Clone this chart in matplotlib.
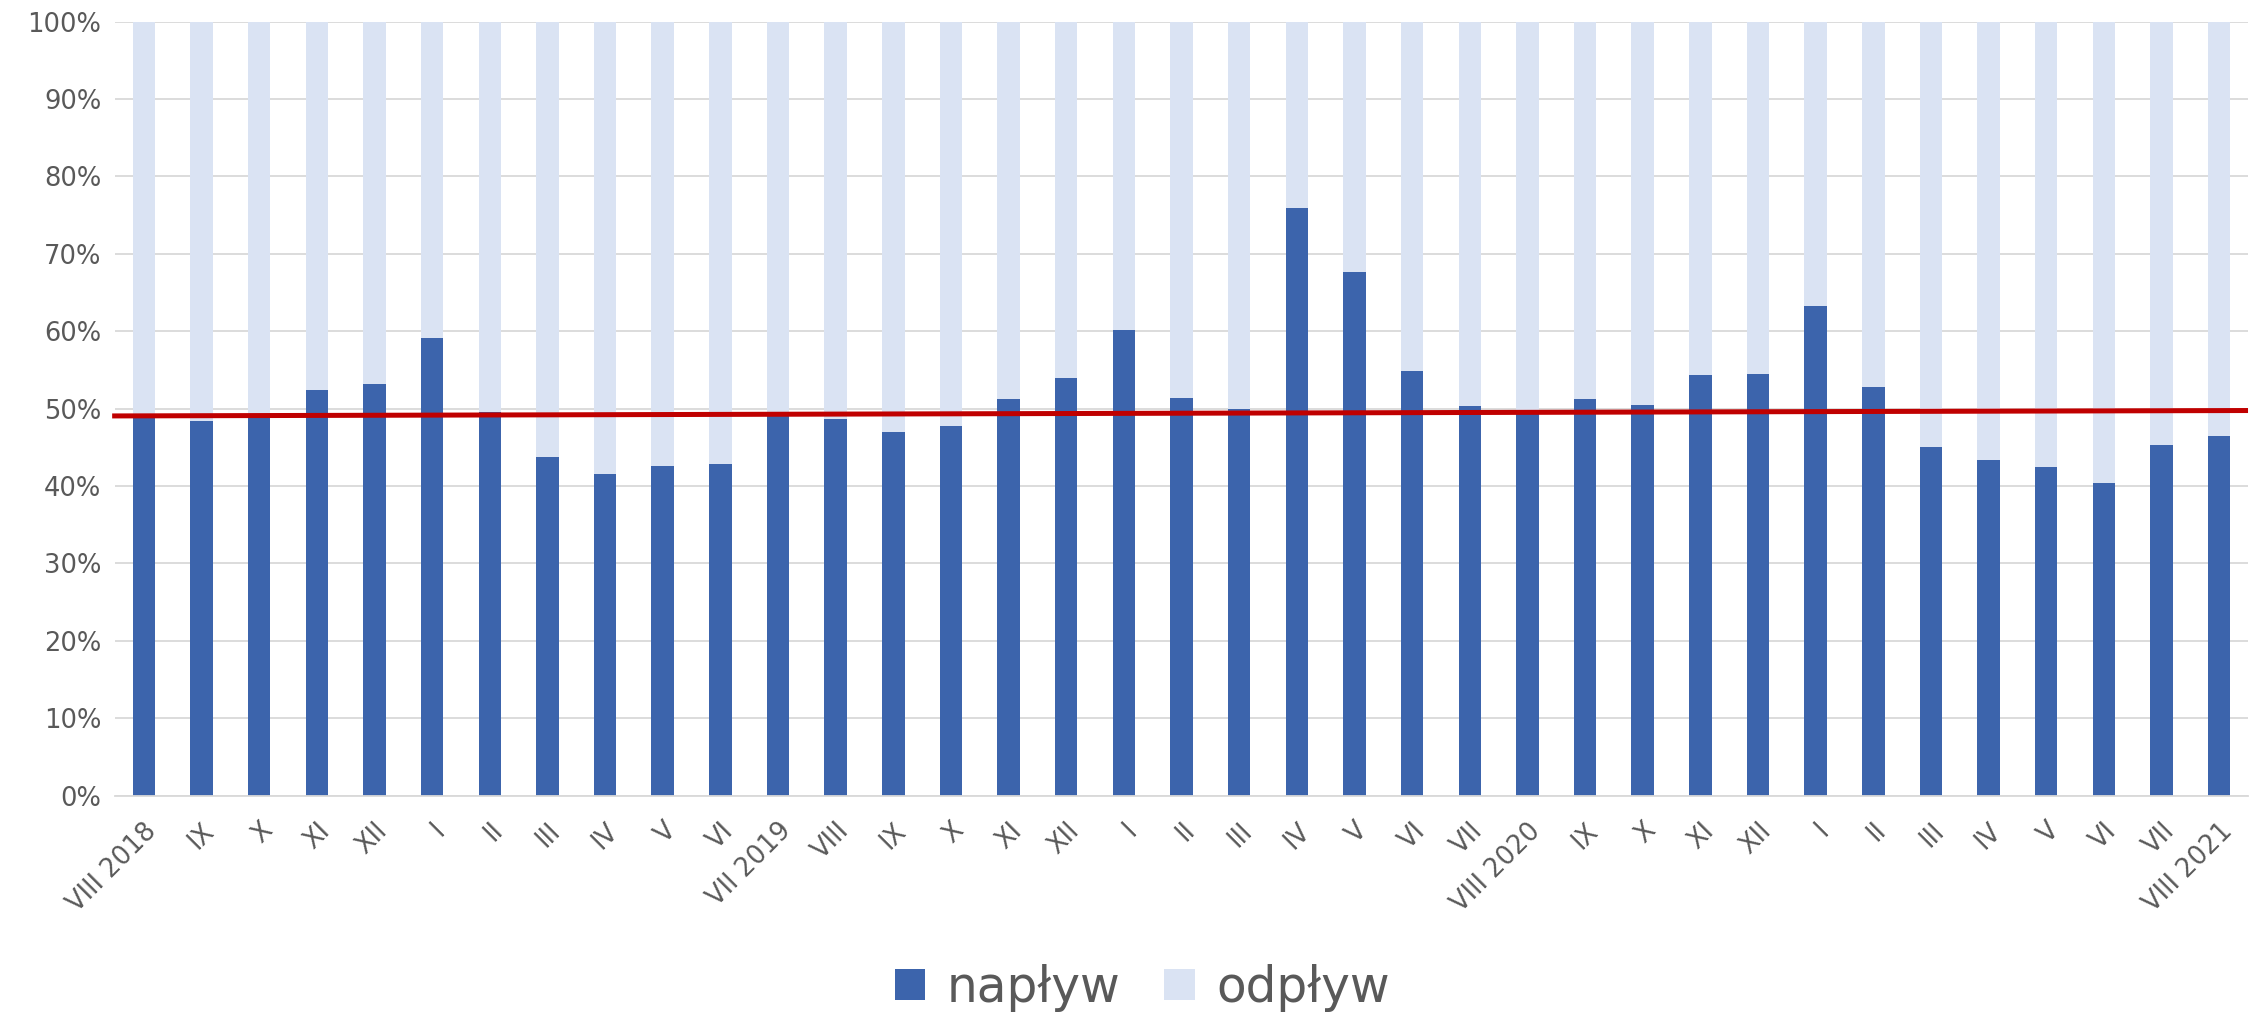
import matplotlib
matplotlib.use("Agg")
import matplotlib.pyplot as plt
import numpy as np
from matplotlib.ticker import PercentFormatter
from matplotlib.patches import Patch

categories = ["VIII 2018", "IX", "X", "XI", "XII", "I", "II", "III", "IV", "V", "VI",
              "VII 2019", "VIII", "IX", "X", "XI", "XII", "I", "II", "III", "IV", "V", "VI",
              "VII", "VIII 2020", "IX", "X", "XI", "XII", "I", "II", "III", "IV", "V", "VI",
              "VII", "VIII 2021"]
naplyw = [49.2, 48.4, 49.3, 52.4, 53.2, 59.1, 49.5, 43.8, 41.6, 42.6, 42.9,
          49.2, 48.6, 47.0, 47.7, 51.2, 53.9, 60.1, 51.4, 49.9, 75.9, 67.6, 54.8,
          50.3, 49.6, 51.3, 50.4, 54.3, 54.5, 63.2, 52.8, 45.0, 43.3, 42.4, 40.4,
          45.3, 46.5]
odplyw = [100 - v for v in naplyw]
trend_start = 49.05
trend_end = 49.75

DARK = "#3C64AC"
LIGHT = "#DAE3F3"
RED = "#C00000"
GRID = "#D9D9D9"
TXT = "#595959"

plt.rcParams['font.family'] = ['DejaVu Sans']

fig = plt.figure(figsize=(22.6, 10.16), dpi=100)
ax = fig.add_axes([0.0509, 0.217, 0.9438, 0.7617])

x = np.arange(len(categories))
w = 0.39
ax.bar(x, naplyw, width=w, color=DARK, zorder=2)
ax.bar(x, odplyw, width=w, bottom=naplyw, color=LIGHT, zorder=2)
ax.plot([-0.55, len(categories) - 0.5], [trend_start, trend_end], color=RED, lw=3.6,
        zorder=3, clip_on=False, solid_capstyle='butt')

ax.set_xlim(-0.5, len(categories) - 0.5)
ax.set_ylim(0, 100)
ax.set_yticks(np.arange(0, 101, 10))
ax.yaxis.set_major_formatter(PercentFormatter(decimals=0))
ax.grid(axis='y', color=GRID, lw=1.3, zorder=0)
ax.set_axisbelow(True)
for s in ['top', 'right', 'left']:
    ax.spines[s].set_visible(False)
ax.spines['bottom'].set_color(GRID)
ax.spines['bottom'].set_linewidth(1.3)
ax.tick_params(axis='both', length=0, colors=TXT, labelsize=18.5)
ax.tick_params(axis='y', pad=10)
ax.set_xticks(x)
ax.set_xticklabels(categories, rotation=45, ha='right', va='top', rotation_mode='anchor')
ax.tick_params(axis='x', pad=16)
for lab in ax.get_xticklabels():
    lab.set_color(TXT)
for lab in ax.get_yticklabels():
    lab.set_color(TXT)

handles = [Patch(facecolor=DARK, label="napływ"), Patch(facecolor=LIGHT, label="odpływ")]
leg = fig.legend(handles=handles, loc='center', bbox_to_anchor=(0.5055, 0.028), ncol=2,
                 frameon=False, fontsize=35, handlelength=0.62, handleheight=0.62,
                 handletextpad=0.45, columnspacing=0.9)
for t in leg.get_texts():
    t.set_color(TXT)

fig.savefig("out.png", dpi=100)
